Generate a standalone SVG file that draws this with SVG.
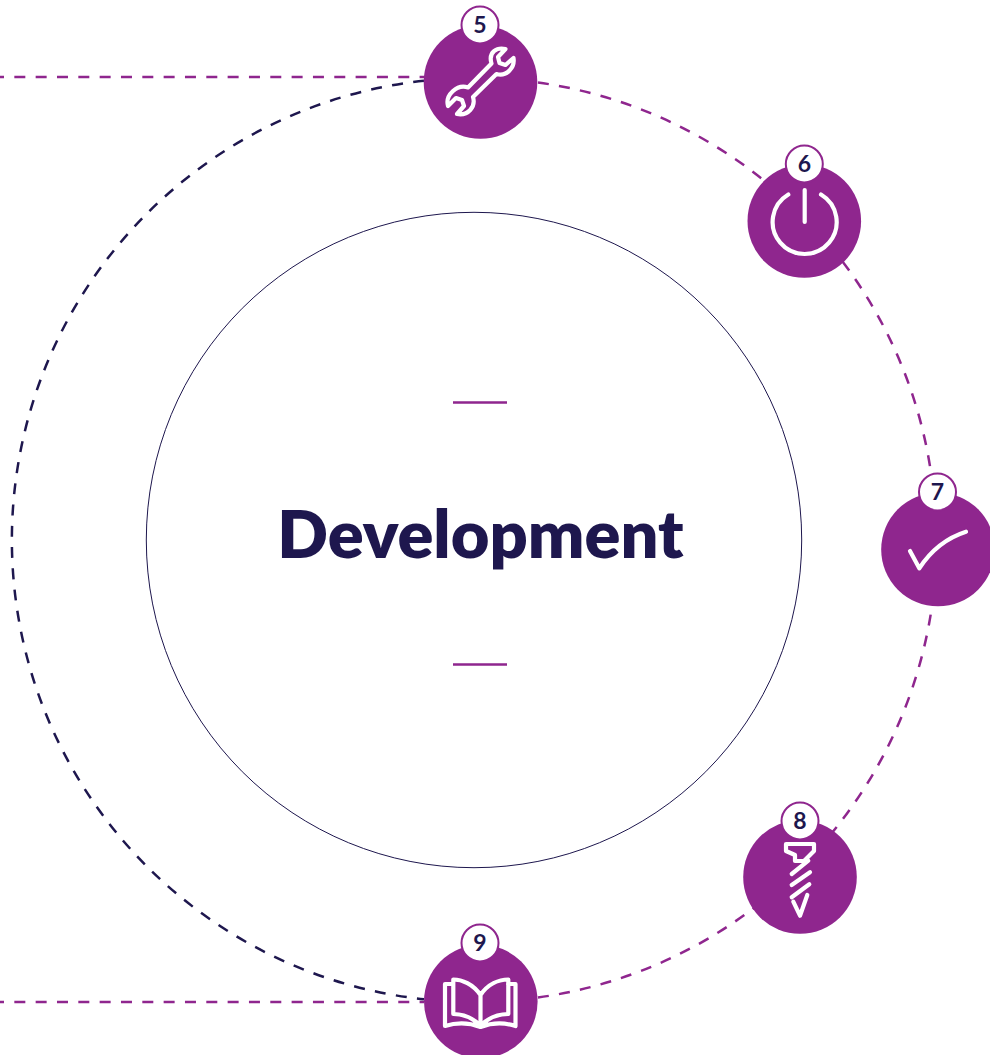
<svg xmlns="http://www.w3.org/2000/svg" width="990" height="1055" viewBox="0 0 990 1055">
<style>
.p{fill:none;stroke:#8f268e;stroke-width:2.5;stroke-dasharray:11 10.33}
.n{fill:none;stroke:#1e174e;stroke-width:2.5;stroke-dasharray:11 10.33}
.disc{fill:#8f268e}
.badge{fill:#fff;stroke:#8f268e;stroke-width:2}
.num{font-family:Lato,sans-serif;font-weight:700;font-size:23px;fill:#1e174e;text-anchor:middle}
.ic{fill:none;stroke:#fff;stroke-width:4.2;stroke-linecap:round;stroke-linejoin:round}
.rule{stroke:#8f268e;stroke-width:2.6}
</style>
<rect width="990" height="1055" fill="#fff"/>
<g id="connectors">
<path class="p" d="M0 77H424" stroke-dashoffset="7"/>
<path class="p" d="M0 1002H424" stroke-dashoffset="7"/>
<path class="n" d="M424 80.7A462 462 0 0 0 424 999.300"/>
<path class="p" d="M538 82.500A462 462 0 0 1 932 480"/>
<path class="p" d="M538 997.500A462 462 0 0 0 932 606"/>
</g>
<g id="center">
<circle cx="474" cy="540" r="327.700" fill="#fff" stroke="#1e174e" stroke-width="1"/>
<path class="rule" d="M453 402.500H507M453 664.500H507"/>
<text x="480.500" y="557.500" font-family="Lato,sans-serif" font-weight="800" font-size="66.700" fill="#1e174e" text-anchor="middle">Development</text>
</g>
<g id="node5">
<circle class="disc" cx="480.500" cy="82" r="56.800"/>
<path class="ic" d="M468 87.500L491.500 63.500C488 52 497 47 505.500 49L498 57L499.500 63L505.500 65L513.500 58C515 67 507 77 496.500 74L473 97C476 107 468 116 457 114L464 106L462 100L456 98L448 106C445 95 457 84 468 87.500Z" stroke-width="4"/>
<circle class="badge" cx="480" cy="25" r="18.500"/>
<text class="num" x="480" y="33.300">5</text>
</g>
<g id="node6">
<circle class="disc" cx="804.300" cy="221" r="56.800"/>
<path class="ic" d="M788.300 194.500A32 32 0 1 0 821 194.500M804.700 190V222"/>
<circle class="badge" cx="804.300" cy="164" r="18.500"/>
<text class="num" x="804.300" y="172.300">6</text>
</g>
<g id="node7">
<circle class="disc" cx="938" cy="549.500" r="56.800"/>
<path class="ic" d="M910 551L919.300 568.300Q937 541 966 531.700" stroke-width="5.500"/>
<circle class="badge" cx="937.500" cy="492" r="18.500"/>
<text class="num" x="937.500" y="500.300">7</text>
</g>
<g id="node8">
<circle class="disc" cx="800" cy="877" r="56.800"/>
<path class="ic" d="M786 844H814V851L804 861H795V855L786 851ZM791.700 874L808.300 860.700M791.700 885L810 872.300M791.700 897.300L809.300 884.300M793.300 901.700L800 915.700L807.300 895"/>
<circle class="badge" cx="800" cy="821" r="18.500"/>
<text class="num" x="800" y="829.300">8</text>
</g>
<g id="node9">
<circle class="disc" cx="480.800" cy="1001.500" r="56.800"/>
<path class="ic" d="M480.500 1026V995C473 984 462 979.500 453.300 979.500V1014C465 1014 474 1019 480.500 1026C487 1019 497 1014 508.300 1014V979.500C499 979.500 488 984 480.500 995M453 984H445V1026C458 1022 470 1023 480.500 1027C491 1023 503 1022 515.500 1026V984H508" stroke-linejoin="miter" stroke-linecap="butt"/>
<circle class="badge" cx="480" cy="943" r="18.500"/>
<text class="num" x="480" y="951.300">9</text>
</g>
</svg>
